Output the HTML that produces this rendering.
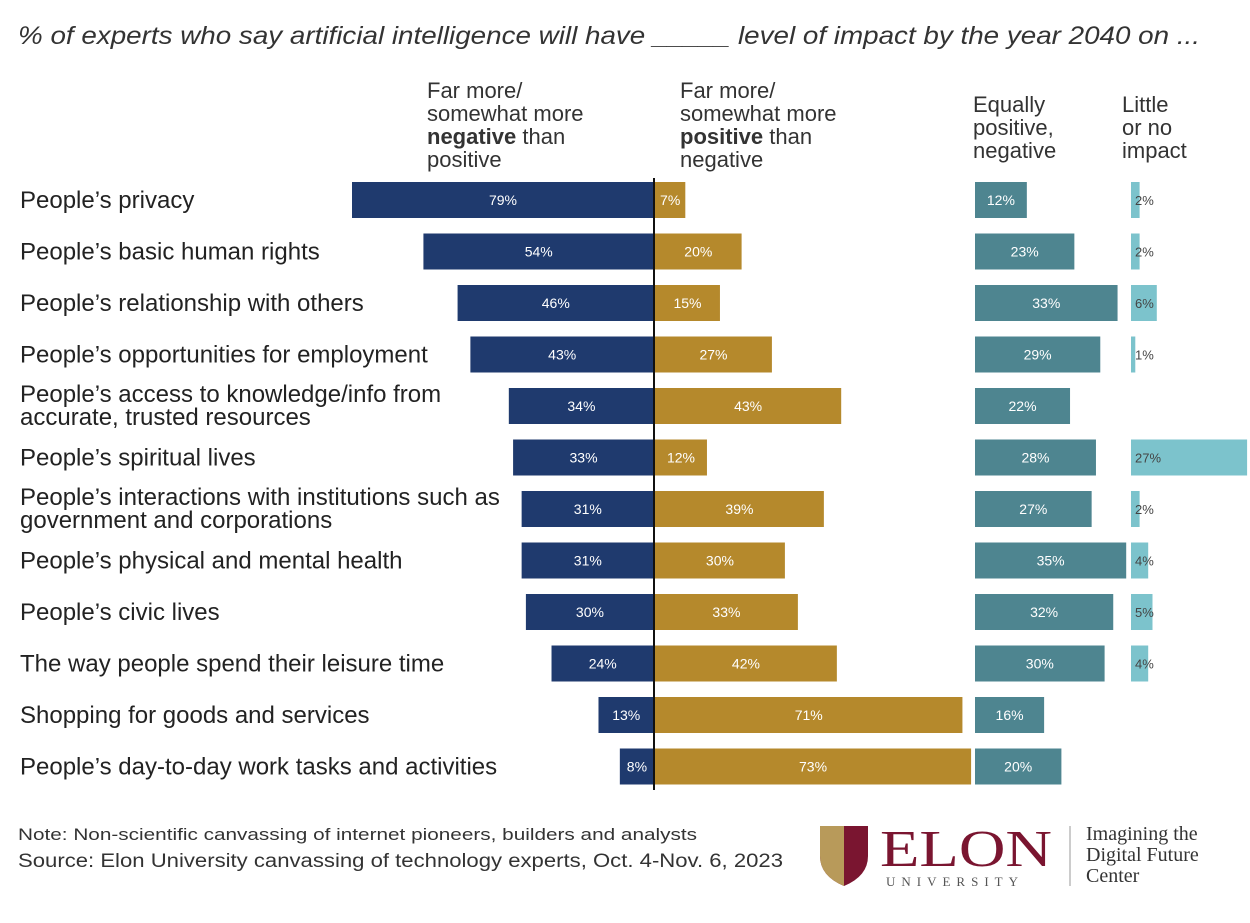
<!DOCTYPE html>
<html><head><meta charset="utf-8">
<style>
body{margin:0;background:#fff;width:1250px;height:918px;overflow:hidden;font-family:"Liberation Sans",sans-serif;}
svg text{font-family:"Liberation Sans",sans-serif;}
</style></head>
<body>
<svg id="chart" width="1250" height="918">
<text x="18" y="44" font-size="25" font-style="italic" fill="#333" textLength="1182" lengthAdjust="spacingAndGlyphs">% of experts who say artificial intelligence will have _____ level of impact by the year 2040 on ...</text>
<g font-size="22" fill="#333">
<text x="427" y="98">Far more/</text><text x="427" y="121">somewhat more</text>
<text x="427" y="144"><tspan font-weight="bold">negative</tspan> than</text><text x="427" y="167">positive</text>
<text x="680" y="98">Far more/</text><text x="680" y="121">somewhat more</text>
<text x="680" y="144"><tspan font-weight="bold">positive</tspan> than</text><text x="680" y="167">negative</text>
<text x="973" y="112">Equally</text><text x="973" y="135">positive,</text><text x="973" y="158">negative</text>
<text x="1122" y="112">Little</text><text x="1122" y="135">or no</text><text x="1122" y="158">impact</text>
</g>
<g id="rows"></g>
<line x1="654" y1="178" x2="654" y2="790" stroke="#111" stroke-width="2"/>
<text x="18" y="840" font-size="17" fill="#333" textLength="679" lengthAdjust="spacingAndGlyphs">Note: Non-scientific canvassing of internet pioneers, builders and analysts</text>
<text x="18" y="867" font-size="19" fill="#333" textLength="765" lengthAdjust="spacingAndGlyphs">Source: Elon University canvassing of technology experts, Oct. 4-Nov. 6, 2023</text>
<g>
<path d="M820 826 h48 v30 q0 20 -24 30 q-24 -10 -24 -30z" fill="#7a1530"/>
<path d="M820 826 h24 v60 q-24 -10 -24 -30z" fill="#b89a5a"/>
<text x="880" y="866" font-size="52" fill="#7a1530" textLength="172" lengthAdjust="spacingAndGlyphs" style="font-family:'Liberation Serif',serif">ELON</text>
<text x="886" y="886" font-size="13" letter-spacing="6" fill="#555" style="font-family:'Liberation Serif',serif">UNIVERSITY</text>
<line x1="1070" y1="826" x2="1070" y2="886" stroke="#999"/>
<text x="1086" y="840" font-size="20" fill="#333" style="font-family:'Liberation Serif',serif">Imagining the</text>
<text x="1086" y="861" font-size="20" fill="#333" style="font-family:'Liberation Serif',serif">Digital Future</text>
<text x="1086" y="882" font-size="20" fill="#333" style="font-family:'Liberation Serif',serif">Center</text>
</g>
</svg>
<script>
const categories=[["People’s privacy"],["People’s basic human rights"],["People’s relationship with others"],["People’s opportunities for employment"],["People’s access to knowledge/info from","accurate, trusted resources"],["People’s spiritual lives"],["People’s interactions with institutions such as","government and corporations"],["People’s physical and mental health"],["People’s civic lives"],["The way people spend their leisure time"],["Shopping for goods and services"],["People’s day-to-day work tasks and activities"]];
const negative=[79,54,46,43,34,33,31,31,30,24,13,8];
const positive=[7,20,15,27,43,12,39,30,33,42,71,73];
const equally=[12,23,33,29,22,28,27,35,32,30,16,20];
const little=[2,2,6,1,null,27,2,4,5,4,null,null];
const NS="http://www.w3.org/2000/svg";
const g=document.getElementById('rows');
const yRow=i=>200+i*51.5;
const negX=v=>654-v*4.27, posW=v=>v*4.33, eqW=v=>v*4.32, litW=v=>v*4.3;
function mk(tag,attrs,txt){const e=document.createElementNS(NS,tag);for(const k in attrs)e.setAttribute(k,attrs[k]);if(txt!=null)e.textContent=txt;g.appendChild(e);return e;}
categories.forEach((c,i)=>{
 const y=yRow(i);
 const lab=mk('text',{x:20,'font-size':24,fill:'#222'});
 
 
 c.forEach((l,j)=>{const t=document.createElementNS(NS,'tspan');t.setAttribute('x',20);t.setAttribute('y',c.length>1?y-4+j*23:y+8);t.textContent=l;lab.appendChild(t);});
 const nx=Math.max(negX(negative[i]),352);
 const b1=mk('rect',{x:nx,y:y-18,width:654-nx,height:36,fill:'#1f3a6e'});
 
 
 const t1=mk('text',{x:(nx+654)/2,y:y+5,'font-size':14,fill:'#fff','text-anchor':'middle'},negative[i]+'%');
 
 
 const b2=mk('rect',{x:655,y:y-18,width:posW(positive[i]),height:36,fill:'#b5892c'});
 
 
 const t2=mk('text',{x:655+Math.max(posW(positive[i])/2,14),y:y+5,'font-size':14,fill:'#fff','text-anchor':'middle'},positive[i]+'%');
 
 
 const b3=mk('rect',{x:975,y:y-18,width:eqW(equally[i]),height:36,fill:'#4e8590'});
 
 
 const t3=mk('text',{x:975+eqW(equally[i])/2,y:y+5,'font-size':14,fill:'#fff','text-anchor':'middle'},equally[i]+'%');
 
 
 if(little[i]!=null){
  const b4=mk('rect',{x:1131,y:y-18,width:litW(little[i]),height:36,fill:'#7cc3cc'});
  
  
  const t4=mk('text',{x:1135,y:y+5,'font-size':13,fill:'#444'},little[i]+'%');
  
  
 }
});
</script>
</body></html>
